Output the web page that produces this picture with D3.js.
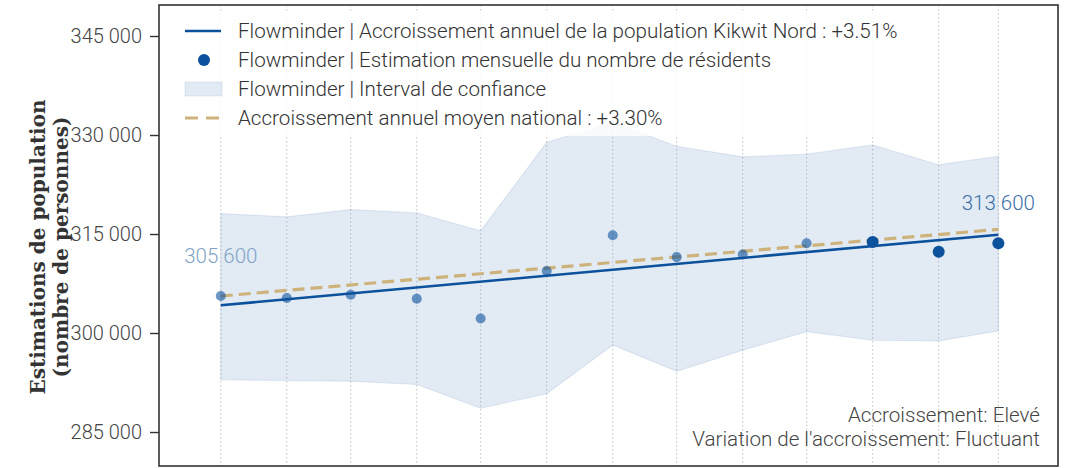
<!DOCTYPE html>
<html lang="fr">
<head>
<meta charset="utf-8">
<script src="https://cdn.jsdelivr.net/npm/d3@7"></script>
<style>
  html, body { margin: 0; padding: 0; background: #ffffff; }
  svg { display: block; }
  .sans { font-family: Roboto, "Noto Sans", sans-serif; font-weight: 300; }
</style>
</head>
<body>
<svg id="chart" width="1071" height="468"></svg>
<script>
// Mois des estimations (premier jour de chaque mois)
const mois = ["2022-03", "2022-04", "2022-05", "2022-06", "2022-07", "2022-08",
              "2022-09", "2022-10", "2022-11", "2022-12", "2023-01", "2023-02", "2023-03"];

// Estimation mensuelle du nombre de résidents
const residents = [305600, 305300, 305800, 305200, 302200, 309400, 314800,
                   311500, 311900, 313600, 313800, 312300, 313600];

// Intervalle de confiance (bornes haute et basse)
const borneHaute = [318100, 317600, 318700, 318200, 315500, 328900, 331900,
                    328300, 326700, 327100, 328500, 325500, 326800];
const borneBasse = [292900, 292800, 292700, 292200, 288600, 290800, 298200,
                    294200, 297400, 300200, 298900, 298800, 300300];

// Estimation consolidée ou provisoire pour chaque mois
const consolidee = [false, false, false, false, false, false, false,
                    false, false, false, true, true, true];

// Droites d'accroissement : valeurs au premier et au dernier mois
const accroissementLocal = [304200, 314900];     // +3.51 % par an
const accroissementNational = [305600, 315700];  // +3.30 % par an

// Graduations de l'axe vertical
const graduationsY = [285000, 300000, 315000, 330000, 345000];

// Textes
const legende = [
  "Flowminder | Accroissement annuel de la population Kikwit Nord : +3.51%",
  "Flowminder | Estimation mensuelle du nombre de résidents",
  "Flowminder | Interval de confiance",
  "Accroissement annuel moyen national : +3.30%"
];
const titreY = ["Estimations de population", "(nombre de personnes)"];
const annotations = ["Accroissement: Elevé", "Variation de l'accroissement: Fluctuant"];

// ---------------------------------------------------------------------------
const parseMois = d3.timeParse("%Y-%m");
const dates = mois.map(parseMois);

const bleu = "#0b519c";
const tan = "#cdb27c";
const bandeCouleur = "#3a75b0";

const plot = { left: 159, right: 1058, top: 5, bottom: 466 };

const fr = d3.formatLocale({ decimal: ",", thousands: "\u00a0", grouping: [3], currency: ["", " €"] });
const fmt = fr.format(",d");

const x = d3.scaleTime()
  .domain([d3.timeDay.offset(dates[0], -29), d3.timeDay.offset(dates[dates.length - 1], 28)])
  .range([plot.left, plot.right]);

const y = d3.scaleLinear()
  .domain([279850, 349700])
  .range([plot.bottom, plot.top]);

const svg = d3.select("#chart");

// Grille verticale pointillée, un trait par mois
svg.append("g")
  .selectAll("line")
  .data(dates)
  .join("line")
  .attr("x1", d => x(d)).attr("x2", d => x(d))
  .attr("y1", plot.top).attr("y2", plot.bottom)
  .attr("stroke", "#c4c4c4")
  .attr("stroke-width", 1)
  .attr("stroke-dasharray", "1.5 2.5");

// Intervalle de confiance
const rows = dates.map((d, i) => ({ d, hi: borneHaute[i], lo: borneBasse[i], v: residents[i], c: consolidee[i] }));

svg.append("path")
  .datum(rows)
  .attr("fill", bandeCouleur)
  .attr("fill-opacity", 0.15)
  .attr("stroke", bandeCouleur)
  .attr("stroke-opacity", 0.12)
  .attr("stroke-width", 1.2)
  .attr("d", d3.area().x(r => x(r.d)).y0(r => y(r.lo)).y1(r => y(r.hi)));

// Droite d'accroissement national (tirets)
const extremes = [dates[0], dates[dates.length - 1]];
svg.append("path")
  .datum(extremes.map((d, i) => [d, accroissementNational[i]]))
  .attr("fill", "none")
  .attr("stroke", tan)
  .attr("stroke-width", 3.2)
  .attr("stroke-dasharray", "12 6")
  .attr("d", d3.line().x(p => x(p[0])).y(p => y(p[1])));

// Droite d'accroissement local
svg.append("path")
  .datum(extremes.map((d, i) => [d, accroissementLocal[i]]))
  .attr("fill", "none")
  .attr("stroke", bleu)
  .attr("stroke-width", 2.6)
  .attr("d", d3.line().x(p => x(p[0])).y(p => y(p[1])));

// Estimations mensuelles
svg.append("g")
  .selectAll("circle")
  .data(rows)
  .join("circle")
  .attr("cx", r => x(r.d))
  .attr("cy", r => y(r.v))
  .attr("r", r => r.c ? 6 : 5)
  .attr("fill", bleu)
  .attr("fill-opacity", r => r.c ? 1 : 0.6);

// Valeurs au premier et au dernier mois
const premier = rows[0], dernier = rows[rows.length - 1];
svg.append("text").attr("class", "sans")
  .attr("x", x(premier.d)).attr("y", y(premier.v) - 33)
  .attr("text-anchor", "middle")
  .attr("font-size", 20.5)
  .attr("fill", "#80a4c9")
  .text(fmt(premier.v));
svg.append("text").attr("class", "sans")
  .attr("x", x(dernier.d)).attr("y", y(dernier.v) - 33)
  .attr("text-anchor", "middle")
  .attr("font-size", 20.5)
  .attr("fill", "#3b6fa9")
  .text(fmt(dernier.v));

// Axe vertical
const axeY = svg.append("g")
  .attr("transform", `translate(${plot.left},0)`)
  .call(d3.axisLeft(y).tickValues(graduationsY).tickFormat(fmt).tickSize(9).tickPadding(8));
axeY.select(".domain").remove();
axeY.selectAll(".tick line").attr("stroke", "#333").attr("stroke-width", 1.4);
axeY.selectAll(".tick text")
  .attr("class", "sans")
  .attr("font-size", 20)
  .attr("fill", "#444");

// Titre de l'axe vertical
const titre = svg.append("text")
  .attr("transform", "translate(38,247) rotate(-90)")
  .attr("text-anchor", "middle")
  .attr("font-family", "'DejaVu Serif', 'Liberation Serif', serif")
  .attr("font-weight", "bold")
  .attr("font-size", 20)
  .attr("fill", "#333");
titre.selectAll("tspan")
  .data(titreY)
  .join("tspan")
  .attr("x", 0)
  .attr("dy", (d, i) => i === 0 ? "0.35em" : 23)
  .text(d => d);

// Légende
const leg = svg.append("g");
leg.append("rect")
  .attr("x", 172).attr("y", 12).attr("width", 740).attr("height", 124)
  .attr("fill", "#fff").attr("fill-opacity", 0.8);
const ligneY = i => 31 + i * 29;
leg.append("line")
  .attr("x1", 185).attr("x2", 221).attr("y1", ligneY(0)).attr("y2", ligneY(0))
  .attr("stroke", bleu).attr("stroke-width", 2.6);
leg.append("circle")
  .attr("cx", 204).attr("cy", ligneY(1)).attr("r", 6).attr("fill", bleu);
leg.append("rect")
  .attr("x", 185).attr("y", ligneY(2) - 7).attr("width", 37).attr("height", 14)
  .attr("fill", bandeCouleur).attr("fill-opacity", 0.15)
  .attr("stroke", bandeCouleur).attr("stroke-opacity", 0.12);
leg.append("line")
  .attr("x1", 185).attr("x2", 221).attr("y1", ligneY(3)).attr("y2", ligneY(3))
  .attr("stroke", tan).attr("stroke-width", 3.2).attr("stroke-dasharray", "13 8");
leg.selectAll("text.item")
  .data(legende)
  .join("text")
  .attr("class", "item sans")
  .attr("x", 238)
  .attr("y", (d, i) => ligneY(i))
  .attr("dy", "0.36em")
  .attr("font-size", 20.6)
  .attr("fill", "#333")
  .text(d => d);

// Qualification de l'accroissement
svg.append("g")
  .selectAll("text")
  .data(annotations)
  .join("text")
  .attr("class", "sans")
  .attr("x", 1040)
  .attr("y", (d, i) => 422 + i * 24)
  .attr("text-anchor", "end")
  .attr("font-size", 20.6)
  .attr("fill", "#444")
  .text(d => d);

// Cadre
svg.append("rect")
  .attr("x", plot.left).attr("y", plot.top)
  .attr("width", plot.right - plot.left).attr("height", plot.bottom - plot.top)
  .attr("fill", "none").attr("stroke", "#333").attr("stroke-width", 1.6);
</script>
</body>
</html>
